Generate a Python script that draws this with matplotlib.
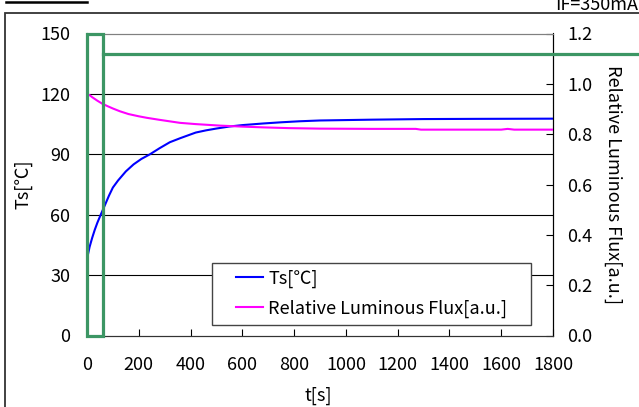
import matplotlib.pyplot as plt
from matplotlib.patches import Rectangle
from matplotlib.lines import Line2D

plt.rcParams['font.family'] = ['Noto Sans CJK JP', 'DejaVu Sans']
FS = 13

# measured data
t_ts = [0, 5, 10, 20, 30, 40, 53, 70, 85, 100, 120, 150, 180, 210, 243, 280, 320, 360,
        420, 460, 500, 550, 600, 680, 750, 820, 900, 1100, 1300, 1500, 1800]
ts = [38, 41, 44, 48.5, 52.5, 56, 60, 65, 69.5, 73.5, 77, 81.5, 85, 87.7, 90, 93, 96, 98,
      100.8, 101.9, 102.8, 103.8, 104.5, 105.3, 105.9, 106.4, 106.8, 107.2, 107.5, 107.6, 107.7]

t_flux = [0, 5, 10, 20, 30, 40, 59, 80, 100, 127, 160, 200, 231, 280, 359, 420, 514, 600,
          681, 780, 900, 1100, 1270, 1290, 1600, 1625, 1650, 1800]
flux = [0.96, 0.957, 0.955, 0.947, 0.94, 0.933, 0.921, 0.911, 0.902, 0.891, 0.88, 0.871,
        0.865, 0.857, 0.845, 0.84, 0.834, 0.83, 0.827, 0.824, 0.822, 0.821, 0.821,
        0.818, 0.818, 0.821, 0.818, 0.818]

x_ticks = [0, 200, 400, 600, 800, 1000, 1200, 1400, 1600, 1800]
ts_ticks = [0, 30, 60, 90, 120, 150]
flux_ticks = [0.0, 0.2, 0.4, 0.6, 0.8, 1.0, 1.2]

# highlight window (green)
win_t = 60
win_level = 140

GREEN = '#3c9664'

fig = plt.figure(figsize=(6.39, 4.07), dpi=100)
ax = fig.add_axes([87 / 639, 1 - 335.5 / 407, 466 / 639, 302 / 407])
ax2 = ax.twinx()

ax.set_xlim(0, 1800)
ax.set_ylim(0, 150)
ax2.set_ylim(0, 1.2)

for y in ts_ticks[1:-1]:
    ax.axhline(y, color='black', lw=0.8, zorder=1)

ax.plot(t_ts, ts, color='#0000ff', lw=1.5, zorder=3, label='Ts[℃]')
ax2.plot(t_flux, flux, color='#ff00ff', lw=1.5, zorder=3, label='Relative Luminous Flux[a.u.]')

ax.set_xticks(x_ticks)
ax.set_yticks(ts_ticks)
ax2.set_yticks(flux_ticks)
ax2.set_yticklabels([f'{v:.1f}' for v in flux_ticks])
ax.tick_params(axis='x', direction='in', length=5, labelsize=FS, pad=15)
ax.tick_params(axis='y', length=0, labelsize=FS, pad=12)
ax2.tick_params(axis='y', direction='in', length=5, labelsize=FS, pad=10)

for a in (ax, ax2):
    a.spines['top'].set_color('#808080')
    a.spines['right'].set_color('black')
    a.spines['left'].set_color('black')
    a.spines['bottom'].set_color('#333333')

ax.set_ylabel('Ts[℃]', fontsize=FS)
ax.yaxis.set_label_coords(-0.118, 0.5)
ax2.set_ylabel('Relative Luminous Flux[a.u.]', fontsize=FS, rotation=-90, va='center')
ax2.yaxis.set_label_coords(1.128, 0.5)
ax.set_xlabel('t[s]', fontsize=FS)
ax.xaxis.set_label_coords(0.497, -0.17)

# green window and level line
ax2.add_patch(Rectangle((0, 0), win_t, 1.2, fill=False, edgecolor=GREEN, lw=2.3,
                        zorder=5, clip_on=False))
ax2.plot([win_t, 2300], [win_level / 125, win_level / 125], color=GREEN, lw=2.3,
         zorder=5, clip_on=False)

# legend with wide frame
ax2.add_patch(Rectangle((0.269, 0.035), 0.684, 0.206, transform=ax2.transAxes,
                        facecolor='white', edgecolor='#444444', lw=1, zorder=6))
h1, l1 = ax.get_legend_handles_labels()
h2, l2 = ax2.get_legend_handles_labels()
leg = ax2.legend(h1 + h2, l1 + l2, loc='center', bbox_to_anchor=(0.611, 0.138),
                 frameon=False, fontsize=FS, handlelength=1.5, handletextpad=0.3,
                 labelspacing=0.65, alignment='left')
leg.set_zorder(7)

# outer frame and header
fig.add_artist(Rectangle((4.5 / 639, -0.02), 1.0, 1 - 13 / 407 + 0.02, transform=fig.transFigure,
                         fill=False, edgecolor='#333333', lw=1.3))
fig.add_artist(Line2D([6 / 639, 87 / 639], [1 - 2 / 407, 1 - 2 / 407], color='black', lw=1.8))
fig.text(638 / 639, 1 - 10 / 407, 'IF=350mA', ha='right', va='baseline', fontsize=FS)

fig.savefig('out.png', dpi=100)
